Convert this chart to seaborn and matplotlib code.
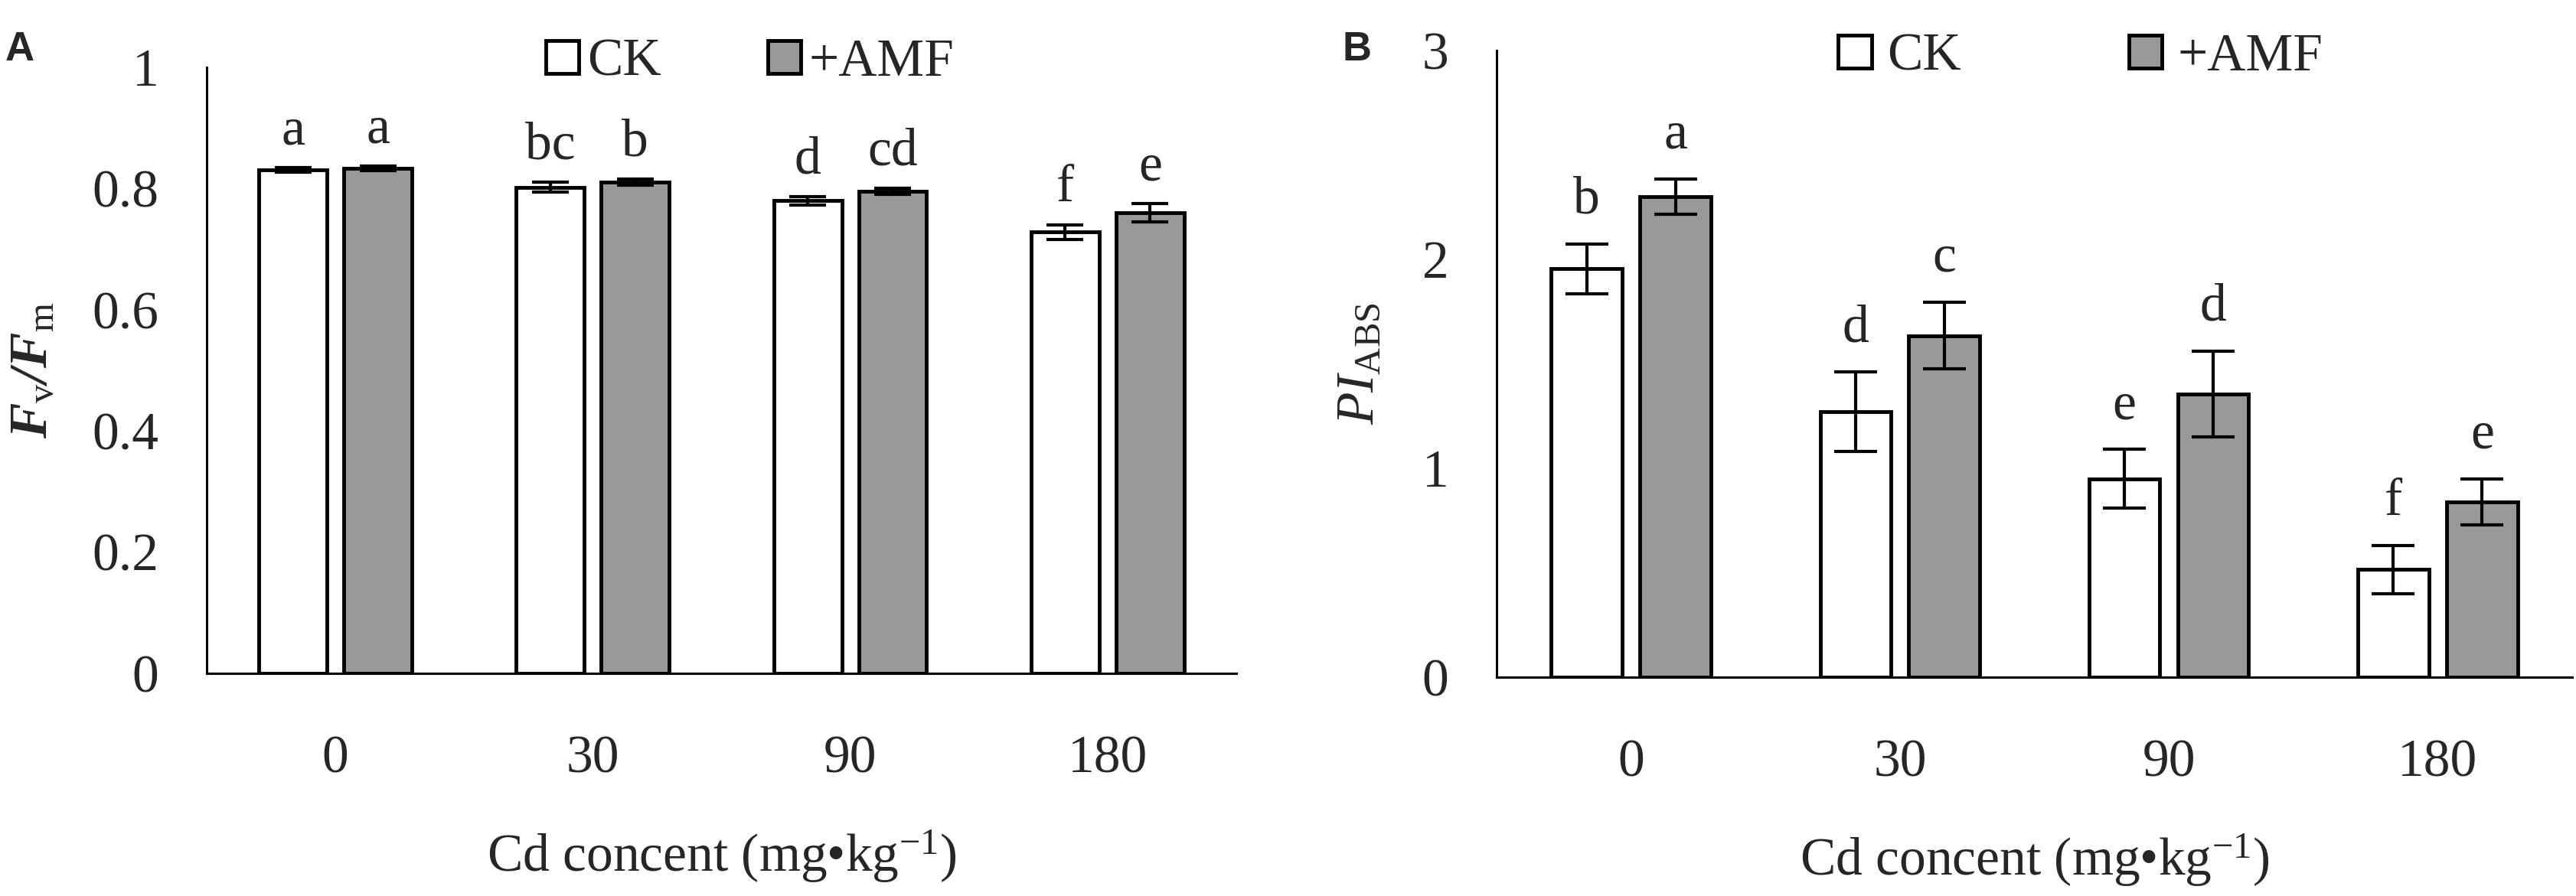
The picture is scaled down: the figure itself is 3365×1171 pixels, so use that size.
import numpy as np
import pandas as pd
import matplotlib
matplotlib.use('Agg')
import matplotlib.pyplot as plt
import seaborn as sns
from matplotlib.patches import Patch

# categories and groups
conc = ['0', '30', '90', '180']
groups = ['CK', '+AMF']

# panel A: Fv/Fm
fvfm_ck = [0.831, 0.802, 0.780, 0.728]
fvfm_amf = [0.833, 0.810, 0.795, 0.760]
fvfm_ck_err = [0.004, 0.008, 0.007, 0.012]
fvfm_amf_err = [0.004, 0.005, 0.005, 0.015]
fvfm_ck_sig = ['a', 'bc', 'd', 'f']
fvfm_amf_sig = ['a', 'b', 'cd', 'e']
fvfm_ticks = [0, 0.2, 0.4, 0.6, 0.8, 1]
fvfm_ticklabels = ['0', '0.2', '0.4', '0.6', '0.8', '1']

# panel B: PI_ABS
pi_ck = [1.955, 1.27, 0.95, 0.515]
pi_amf = [2.30, 1.635, 1.355, 0.84]
pi_ck_err = [0.12, 0.19, 0.14, 0.115]
pi_amf_err = [0.085, 0.16, 0.205, 0.11]
pi_ck_sig = ['b', 'd', 'e', 'f']
pi_amf_sig = ['a', 'c', 'd', 'e']
pi_ticks = [0, 1, 2, 3]
pi_ticklabels = ['0', '1', '2', '3']

sns.set_style('white')
plt.rcParams['font.family'] = ['Liberation Serif', 'DejaVu Serif']
plt.rcParams['mathtext.fontset'] = 'custom'
plt.rcParams['mathtext.rm'] = 'Liberation Serif'
plt.rcParams['mathtext.it'] = 'Liberation Serif:italic'
plt.rcParams['mathtext.bf'] = 'Liberation Serif:italic:bold'

FS = 50
GRAY = '#999999'


def draw_panel(ax, ck, amf, ck_err, amf_err, ck_sig, amf_sig, ymax, ticks, ticklabels,
               ylabel, ylab_x, sig_off, capsize):
    df = pd.DataFrame({
        'conc': conc * 2,
        'group': [groups[0]] * len(conc) + [groups[1]] * len(conc),
        'value': ck + amf,
    })
    sns.barplot(data=df, x='conc', y='value', hue='group', order=conc, hue_order=groups,
                palette=['white', GRAY], saturation=1, edgecolor='black', linewidth=3.5,
                width=0.66, gap=0.2, errorbar=None, legend=False, ax=ax)
    for cont, err, sig in zip(ax.containers, [ck_err, amf_err], [ck_sig, amf_sig]):
        xs = [p.get_x() + p.get_width() / 2 for p in cont.patches]
        ys = [p.get_height() for p in cont.patches]
        ax.errorbar(xs, ys, yerr=err, fmt='none', ecolor='black', elinewidth=3,
                    capsize=capsize, capthick=3, zorder=3)
        for x, y, e, s in zip(xs, ys, err, sig):
            ax.annotate(s, (x, y + e), xytext=(0, sig_off), textcoords='offset points',
                        ha='center', va='baseline', fontsize=FS)

    ax.set_xlim(-0.5, len(conc) - 0.5)
    ax.set_ylim(0, ymax)
    sns.despine(ax=ax)
    for side in ['left', 'bottom']:
        ax.spines[side].set_linewidth(2.2)
        ax.spines[side].set_color('black')

    ax.set_xticks(range(len(conc)))
    ax.set_xticklabels(conc, fontsize=FS)
    ax.set_xticks(np.arange(len(conc)) + 0.5, minor=True)
    ax.tick_params(axis='x', which='major', length=0, pad=58)
    ax.tick_params(axis='x', which='minor', direction='in', length=18, width=2.2, color='black')
    ax.set_yticks(ticks)
    ax.set_yticklabels(ticklabels, fontsize=FS)
    ax.tick_params(axis='y', direction='in', length=18, width=2.2, pad=45, color='black')

    ax.set_xlabel('Cd concent (mg•kg$^{-1}$)', fontsize=FS, labelpad=42)
    ax.set_ylabel(ylabel, fontsize=FS)
    ax.yaxis.set_label_coords(ylab_x, 0.5)
    ax.yaxis.label.set_va('center')


def add_legend(ax, center, textpad, colspace):
    handles = [Patch(facecolor='white', edgecolor='black', linewidth=3.5, label=groups[0]),
               Patch(facecolor=GRAY, edgecolor='black', linewidth=3.5, label=groups[1])]
    ax.legend(handles=handles, loc='center', bbox_to_anchor=center,
              bbox_transform=ax.figure.transFigure, ncol=2, frameon=False, fontsize=FS,
              handlelength=0.62, handleheight=0.58, handletextpad=textpad,
              columnspacing=colspace, borderpad=0, borderaxespad=0)


fig = plt.figure(figsize=(33.66, 11.71), dpi=100)
ax_a = fig.add_axes([0.0802, 0.2485, 0.3996, 0.6764])
ax_b = fig.add_axes([0.5808, 0.2442, 0.4174, 0.6994])

draw_panel(ax_a, fvfm_ck, fvfm_amf, fvfm_ck_err, fvfm_amf_err, fvfm_ck_sig, fvfm_amf_sig,
           1, fvfm_ticks, fvfm_ticklabels,
           r'$\mathbf{F}_{\mathrm{v}}\mathbf{/F}_{\mathrm{m}}$', -0.168, 22, 17)
draw_panel(ax_b, pi_ck, pi_amf, pi_ck_err, pi_amf_err, pi_ck_sig, pi_amf_sig,
           3, pi_ticks, pi_ticklabels,
           r'$PI_{\mathrm{ABS}}$', -0.127, 29, 20)

add_legend(ax_a, (980 / 3366, 1 - 82 / 1171), 0.16, 2.0)
add_legend(ax_b, (2718 / 3366, 1 - 75 / 1171), 0.3, 3.15)

fig.text(7 / 3366, 1 - 40 / 1171, 'A', family='Liberation Sans', weight='bold',
         fontsize=38, ha='left', va='top')
fig.text(1754 / 3366, 1 - 40 / 1171, 'B', family='Liberation Sans', weight='bold',
         fontsize=38, ha='left', va='top')

fig.savefig('out.png', dpi=100, facecolor='white')
